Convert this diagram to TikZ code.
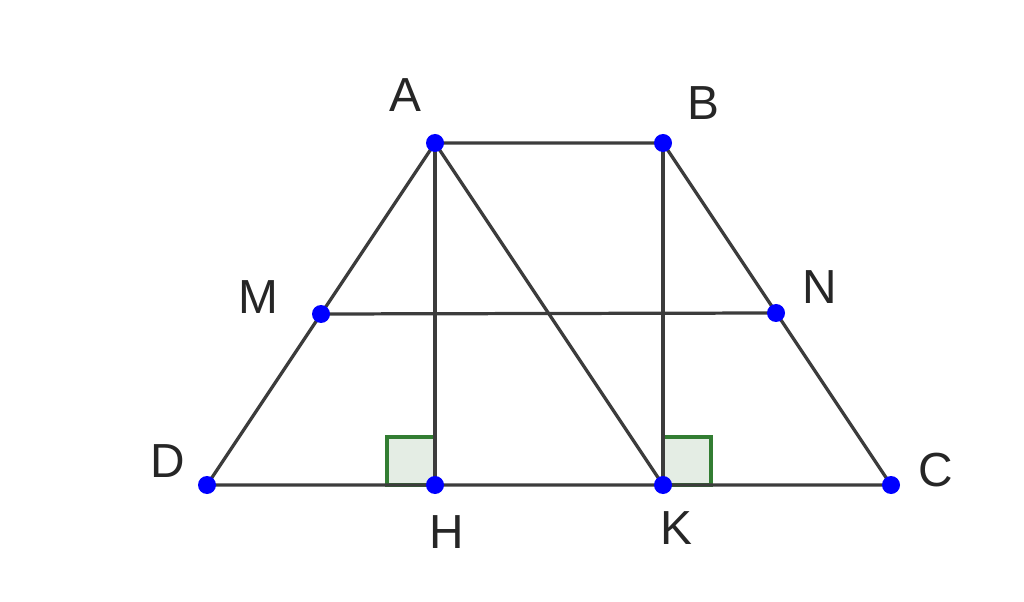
\documentclass[tikz,border=0pt]{standalone}
\usepackage{fontspec}
\setmainfont{Liberation Sans}
\definecolor{segcol}{RGB}{60,60,60}
\definecolor{ptcol}{RGB}{0,0,255}
\definecolor{rightcol}{RGB}{50,125,50}
\definecolor{rightfill}{RGB}{228,237,228}
\tikzset{
  seg/.style = {draw = segcol, line width = 2.3pt},
  ptlabel/.style = {font = \fontsize{34}{40}\selectfont, text = black!85},
  rightmark/.style = {draw = rightcol, line width = 2.5pt, fill = rightfill}
}
\begin{document}
\begin{tikzpicture}[x = .025cm, y = -.025cm]
					\useasboundingbox (0,0) rectangle (1024,602);
					\coordinate (A) at (435,143);
					\coordinate (B) at (663,143);
					\coordinate (C) at (891,485);
					\coordinate (D) at (207,485);
					\coordinate (M) at (321,314);
					\coordinate (N) at (776,313);
					\coordinate (H) at (435,485);
					\coordinate (K) at (663,485);
					% right angles
					\draw[rightmark] (H) rectangle ++(-48,-48);
					\draw[rightmark] (K) rectangle ++(48,-48);
					\draw[seg] (A)--(B)--(C)--(D)--cycle;
					\draw[seg] (M)--(N);
					\draw[seg] (A)--(H);
					\draw[seg] (B)--(K);
					\draw[seg] (A)--(K);
					\foreach \p in {A,B,C,D,M,N,H,K}
						\fill[ptcol] (\p) circle (9);
					\node[ptlabel] (lA) at (405,95) {A};
					\node[ptlabel] (lB) at (703,103) {B};
					\node[ptlabel] (lC) at (936,470) {C};
					\node[ptlabel] (lD) at (168,461) {D};
					\node[ptlabel] (lM) at (258,297) {M};
					\node[ptlabel] (lN) at (820,287) {N};
					\node[ptlabel] (lH) at (447,532) {H};
					\node[ptlabel] (lK) at (676,528) {K};
				\end{tikzpicture}
\end{document}
